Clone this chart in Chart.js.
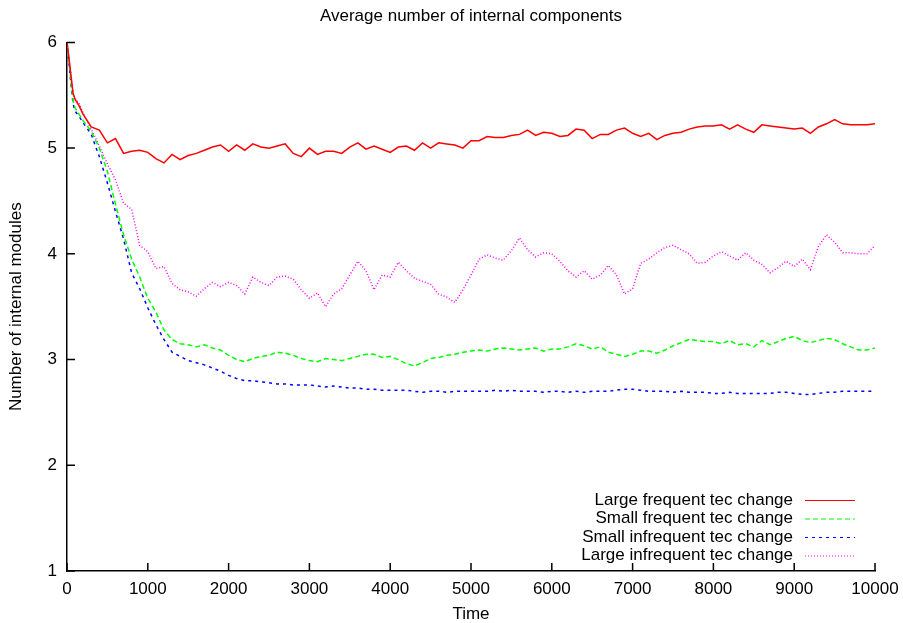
<!DOCTYPE html>
<html>
<head>
<meta charset="utf-8">
<script src="https://cdn.jsdelivr.net/npm/chart.js@4.4.0/dist/chart.umd.min.js"></script>
<style>
html, body { margin: 0; padding: 0; background: #fff; }
</style>
</head>
<body>
<canvas id="chart" width="903" height="623"></canvas>
<script>
// Sample times (x axis)
const times = [0,25,50,75,100,150,200,
    300,400,500,600,700,800,900,1000,1100,1200,
    1300,1400,1500,1600,1700,1800,1900,2000,2100,2200,
    2300,2400,2500,2600,2700,2800,2900,3000,3100,3200,
    3300,3400,3500,3600,3700,3800,3900,4000,4100,4200,
    4300,4400,4500,4600,4700,4800,4900,5000,5100,5200,
    5300,5400,5500,5600,5700,5800,5900,6000,6100,6200,
    6300,6400,6500,6600,6700,6800,6900,7000,7100,7200,
    7300,7400,7500,7600,7700,7800,7900,8000,8100,8200,
    8300,8400,8500,8600,8700,8800,8900,9000,9100,9200,
    9300,9400,9500,9600,9700,9800,9900,10000];

// Average number of internal modules
const largeFrequent = [6.00,5.85,5.68,5.52,5.46,5.40,5.32,
    5.20,5.17,5.05,5.09,4.95,4.97,4.98,4.96,4.90,4.86,
    4.94,4.89,4.93,4.95,4.98,5.01,5.03,4.97,5.03,4.98,
    5.04,5.01,5.00,5.02,5.04,4.95,4.92,5.00,4.94,4.97,
    4.97,4.95,5.01,5.05,4.99,5.02,4.99,4.96,5.01,5.02,
    4.98,5.05,5.00,5.05,5.04,5.03,5.00,5.07,5.07,5.11,
    5.10,5.10,5.12,5.13,5.17,5.12,5.15,5.14,5.11,5.12,
    5.18,5.17,5.09,5.13,5.13,5.17,5.19,5.14,5.11,5.14,
    5.08,5.12,5.14,5.15,5.18,5.20,5.21,5.21,5.22,5.18,
    5.22,5.18,5.15,5.22,5.21,5.20,5.19,5.18,5.19,5.14,
    5.20,5.23,5.27,5.23,5.22,5.22,5.22,5.23];

const smallFrequent = [6.00,5.82,5.62,5.45,5.38,5.32,5.26,
    5.16,5.00,4.78,4.47,4.18,3.95,3.78,3.58,3.45,3.28,
    3.19,3.15,3.14,3.12,3.14,3.11,3.09,3.04,3.00,2.98,
    3.01,3.03,3.04,3.07,3.06,3.04,3.01,2.99,2.98,3.01,
    3.00,2.99,3.01,3.03,3.05,3.05,3.02,3.03,3.00,2.96,
    2.94,2.97,3.01,3.02,3.04,3.05,3.07,3.08,3.09,3.08,
    3.10,3.11,3.10,3.09,3.10,3.11,3.08,3.10,3.10,3.12,
    3.15,3.13,3.10,3.12,3.07,3.05,3.03,3.05,3.08,3.08,
    3.06,3.09,3.13,3.16,3.19,3.18,3.17,3.17,3.15,3.18,
    3.14,3.15,3.12,3.18,3.14,3.17,3.20,3.22,3.18,3.16,
    3.18,3.20,3.19,3.15,3.12,3.09,3.09,3.11];

const smallInfrequent = [6.00,5.80,5.60,5.42,5.35,5.30,5.24,
    5.13,4.92,4.67,4.40,4.14,3.82,3.67,3.49,3.33,3.19,
    3.07,3.03,2.99,2.97,2.95,2.92,2.89,2.85,2.82,2.80,
    2.80,2.79,2.78,2.77,2.77,2.76,2.76,2.76,2.75,2.74,
    2.75,2.74,2.73,2.73,2.72,2.72,2.71,2.71,2.71,2.71,
    2.70,2.69,2.70,2.70,2.69,2.70,2.70,2.70,2.70,2.70,
    2.71,2.70,2.71,2.70,2.70,2.70,2.69,2.70,2.70,2.69,
    2.70,2.69,2.70,2.70,2.70,2.71,2.72,2.72,2.71,2.70,
    2.70,2.70,2.69,2.70,2.69,2.69,2.69,2.68,2.68,2.69,
    2.68,2.68,2.68,2.68,2.68,2.69,2.69,2.68,2.67,2.67,
    2.68,2.69,2.69,2.70,2.70,2.70,2.70,2.70];

const largeInfrequent = [6.00,5.85,5.68,5.52,5.47,5.42,5.33,
    5.18,5.02,4.85,4.70,4.48,4.42,4.08,4.02,3.86,3.88,
    3.72,3.66,3.64,3.60,3.67,3.73,3.69,3.73,3.70,3.62,
    3.78,3.73,3.70,3.78,3.79,3.76,3.66,3.58,3.63,3.50,
    3.62,3.67,3.80,3.93,3.84,3.66,3.80,3.78,3.92,3.84,
    3.77,3.74,3.71,3.62,3.59,3.54,3.66,3.80,3.95,3.99,
    3.96,3.94,4.03,4.15,4.04,3.97,4.01,4.00,3.93,3.84,
    3.78,3.84,3.76,3.80,3.89,3.80,3.62,3.67,3.91,3.95,
    4.01,4.06,4.08,4.04,4.00,3.91,3.92,3.98,4.02,3.98,
    3.94,4.01,3.94,3.90,3.82,3.87,3.93,3.88,3.95,3.85,
    4.07,4.18,4.11,4.01,4.01,4.00,4.00,4.08];

const seriesLabels = ['Large frequent tec change', 'Small frequent tec change',
    'Small infrequent tec change', 'Large infrequent tec change'];

function toPoints(values) {
    return times.map((t, i) => ({ x: t, y: values[i] }));
}

function makeSet(label, values, color, dash) {
    return {
        label: label,
        data: toPoints(values),
        borderColor: color,
        borderWidth: 1.5,
        borderDash: dash,
        pointRadius: 0,
        tension: 0,
        fill: false
    };
}

// gnuplot style: ticks drawn inside the plot
const innerTicks = {
    id: 'innerTicks',
    afterDraw(chart) {
        const ctx = chart.ctx;
        const area = chart.chartArea;
        const xs = chart.scales.x, ys = chart.scales.y;
        ctx.save();
        ctx.strokeStyle = '#000';
        ctx.lineWidth = 1.5;
        ctx.beginPath();
        xs.ticks.forEach(t => {
            const px = xs.getPixelForValue(t.value);
            ctx.moveTo(px, area.bottom);
            ctx.lineTo(px, area.bottom - 8);
        });
        ys.ticks.forEach(t => {
            const py = ys.getPixelForValue(t.value);
            ctx.moveTo(area.left, py);
            ctx.lineTo(area.left + 8, py);
        });
        ctx.stroke();
        ctx.restore();
    }
};

// legend inside the plot, bottom right
const innerLegend = {
    id: 'innerLegend',
    afterDraw(chart) {
        const ctx = chart.ctx;
        const area = chart.chartArea;
        const textRight = area.right - 82;
        const lineStart = area.right - 70;
        const lineEnd = area.right - 20;
        let y = area.bottom - 71;
        ctx.save();
        ctx.font = '17px "Liberation Sans", Arial, sans-serif';
        ctx.textAlign = 'right';
        ctx.textBaseline = 'middle';
        chart.data.datasets.forEach(ds => {
            ctx.fillStyle = '#000';
            ctx.fillText(ds.label, textRight, y);
            ctx.strokeStyle = ds.borderColor;
            ctx.lineWidth = 1;
            ctx.setLineDash(ds.borderDash || []);
            ctx.beginPath();
            ctx.moveTo(lineStart, y + 0.5);
            ctx.lineTo(lineEnd, y + 0.5);
            ctx.stroke();
            y += 18.5;
        });
        ctx.restore();
    }
};

Chart.defaults.font.family = '"Liberation Sans", Arial, sans-serif';
Chart.defaults.font.size = 17;
Chart.defaults.color = '#000';

const ctx = document.getElementById('chart').getContext('2d');
new Chart(ctx, {
    type: 'line',
    data: {
        datasets: [
            makeSet(seriesLabels[0], largeFrequent, '#ff0000', []),
            makeSet(seriesLabels[1], smallFrequent, '#00ff00', [5, 3]),
            makeSet(seriesLabels[2], smallInfrequent, '#0000ff', [3, 4]),
            makeSet(seriesLabels[3], largeInfrequent, '#ff00ff', [1, 2])
        ]
    },
    options: {
        responsive: false,
        animation: false,
        devicePixelRatio: 1,
        layout: { padding: { top: 0, left: 0, right: 28, bottom: 0 } },
        plugins: {
            legend: { display: false },
            tooltip: { enabled: false },
            title: {
                display: true,
                text: 'Average number of internal components',
                fullSize: false,
                font: { size: 17, weight: 'normal' },
                padding: { top: 6, bottom: 16 }
            }
        },
        scales: {
            x: {
                type: 'linear',
                min: 0,
                max: 10000,
                ticks: { stepSize: 1000, padding: 8, maxRotation: 0, callback: v => String(v) },
                grid: { display: false, drawTicks: false },
                border: { display: true, color: '#000', width: 1.5 },
                title: { display: true, text: 'Time', padding: { top: 0, bottom: -2 } },
                afterFit: s => { s.height = 52; s.paddingLeft = 0; s.paddingRight = 20; }
            },
            y: {
                min: 1,
                max: 6,
                ticks: { stepSize: 1, padding: 10 },
                grid: { display: false, drawTicks: false },
                border: { display: true, color: '#000', width: 1.5 },
                title: { display: true, text: 'Number of internal modules', padding: { top: 6, bottom: 0 } },
                afterFit: s => { s.width = 67; }
            }
        }
    },
    plugins: [innerTicks, innerLegend]
});
</script>
</body>
</html>
